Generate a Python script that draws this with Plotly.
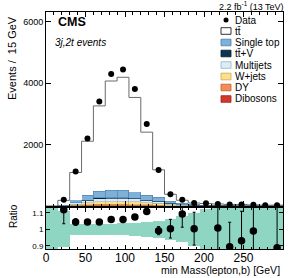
import numpy as np
import plotly.graph_objects as go

# ---------------- data ----------------
bin_edges_lo = [0, 15, 30, 45, 60, 75, 90, 105, 120, 135, 150, 165, 180, 195, 210, 225, 240, 255, 270, 285]
bin_width = 15
x_ticks = [0, 50, 100, 150, 200, 250, 300]

data_counts = [None, 206, 1125, 2197, 3400, 4297, 4438, 3805, 2667, 1171, 384, 207, 100, 90, 70, 50, 50, 40, 30, 30]

ttbar     = [3, 157, 892, 1749, 2767, 3552, 3673, 3064, 2044, 885, 234, 100, 40, 36, 26, 17, 18, 12, 7, 10]
singletop = [1, 12, 90, 165, 225, 240, 240, 215, 165, 135, 65, 38, 25, 20, 18, 15, 13, 11, 9, 9]
ttv       = [0, 1, 8, 15, 20, 22, 22, 20, 16, 13, 7, 4, 3, 2, 2, 2, 1, 1, 1, 1]
multijets = [0, 6, 40, 70, 100, 105, 105, 95, 72, 60, 32, 20, 13, 11, 10, 8, 7, 6, 5, 5]
wjets     = [1, 7, 38, 70, 90, 92, 92, 86, 67, 55, 30, 18, 12, 10, 9, 8, 7, 6, 5, 4]
dy        = [0, 3, 18, 32, 45, 45, 45, 42, 32, 26, 13, 8, 6, 5, 4, 4, 3, 3, 2, 2]
dibosons  = [0, 1, 6, 8, 10, 11, 11, 10, 8, 6, 3, 2, 1, 1, 1, 1, 1, 1, 1, 1]

ratio     = [None, 1.119, 1.044, 1.044, 1.044, 1.06, 1.06, 1.075, 1.109, 0.992, 1.004, 1.093, 1.004, None, 1.008, 0.893, 0.93, 0.99, None, 0.888]
ratio_err = [None, 0.085, 0.02, 0.01, 0.01, 0.008, 0.008, 0.008, 0.01, 0.025, 0.057, 0.08, 0.1, None, 0.2, 0.15, 0.18, 0.25, None, 0.3]
band_err  = [0.5, 0.11, 0.033, 0.033, 0.033, 0.034, 0.036, 0.04, 0.045, 0.05, 0.065, 0.08, 0.1, 0.125, 0.16, 0.25, 0.3, 0.35, 0.4, 0.45]

# ---------------- geometry helpers ----------------
W, H = 291, 278
L, R, T, B = 46, 8, 12, 29
PW, PH = W - L - R, H - T - B

def px(x):
    return (x - L) / PW

def py(y):
    return (H - B - y) / PH

centers = [e + bin_width / 2 for e in bin_edges_lo]

stack = [
    ("Dibosons", dibosons, "#d3392b", "#9e2418"),
    ("DY", dy, "#f68c55", "#c0622e"),
    ("W+jets", wjets, "#fedf8e", "#c9a850"),
    ("Multijets", multijets, "#dcedf5", "#93b5c6"),
    ("tt\u0304+V", ttv, "#0b3550", "#061e2e"),
    ("Single top", singletop, "#7eb0d8", "#4a7fae"),
]

fig = go.Figure()
for name, vals, col, lcol in stack:
    fig.add_trace(go.Bar(x=centers, y=vals, width=bin_width, marker=dict(color=col, line=dict(color=lcol, width=0.6)),
                         xaxis="x", yaxis="y", showlegend=False, hoverinfo="skip"))
fig.add_trace(go.Bar(x=centers, y=ttbar, width=bin_width, marker=dict(color="white", line=dict(width=0)),
                     xaxis="x", yaxis="y", showlegend=False))

total = np.sum([np.array(v, dtype=float) for v in [ttbar, singletop, ttv, multijets, wjets, dy, dibosons]], axis=0)
step_x = [bin_edges_lo[0]] + bin_edges_lo + [bin_edges_lo[-1] + bin_width, bin_edges_lo[-1] + bin_width]
step_y = [0] + list(total) + [total[-1], 0]
fig.add_trace(go.Scatter(x=step_x, y=step_y, mode="lines", line=dict(color="#6a6a6a", width=1, shape="hv"),
                         xaxis="x", yaxis="y", showlegend=False))

fig.add_trace(go.Scatter(x=centers, y=data_counts, mode="markers", marker=dict(color="black", size=6),
                         xaxis="x", yaxis="y", showlegend=False))

# ratio band
fig.add_trace(go.Bar(x=centers, y=[2 * e for e in band_err], base=[1 - e for e in band_err], width=bin_width,
                     marker=dict(color="#8ed6c2", line=dict(width=0)), xaxis="x2", yaxis="y2", showlegend=False))
fig.add_trace(go.Scatter(x=centers, y=ratio, mode="markers",
                         marker=dict(color="black", size=7.5),
                         error_y=dict(type="data", array=ratio_err, color="black", thickness=1, width=1.5),
                         xaxis="x2", yaxis="y2", showlegend=False))

axis_common = dict(showline=True, linecolor="black", linewidth=1, mirror="ticks", ticks="inside",
                   tickcolor="black", showgrid=False, zeroline=False)
fig.update_layout(
    width=W, height=H, autosize=False,
    margin=dict(l=L, r=R, t=T, b=B, pad=0),
    paper_bgcolor="white", plot_bgcolor="white",
    barmode="stack",
    font=dict(family="Liberation Sans, Arial, sans-serif", color="black"),
    xaxis=dict(domain=[0, 1], range=[0, 300], anchor="y", showticklabels=False, tickvals=x_ticks, ticklen=5,
               minor=dict(dtick=10, ticklen=2.5, ticks="inside", tickcolor="black"), **axis_common),
    yaxis=dict(domain=[0.181, 1], range=[0, 6310], anchor="x", tickvals=[2000, 4000, 6000], ticklen=5,
               tickfont=dict(size=9), **axis_common),
    xaxis2=dict(domain=[0, 1], range=[0, 300], anchor="y2", matches="x", tickvals=x_ticks, ticklen=4,
                tickfont=dict(size=12), ticklabelstandoff=-2,
                minor=dict(dtick=10, ticklen=2, ticks="inside", tickcolor="black"),
                **axis_common),
    yaxis2=dict(domain=[0, 0.173], range=[0.88, 1.13], anchor="x2", tickvals=[0.9, 1, 1.1],
                ticktext=["0.9", "1", "1.1"], ticklen=4, tickfont=dict(size=8), **axis_common),
)

ann = []
ann.append(dict(x=px(56), y=py(22), text="<b>CMS</b>", font=dict(size=12.5), xanchor="left", yanchor="middle"))
ann.append(dict(x=px(53), y=py(42), text="<i>3j,2t events</i>", font=dict(size=10), xanchor="left", yanchor="middle"))
ann.append(dict(x=px(286), y=py(6), text="2.2 fb<sup>-1</sup> (13 TeV)", font=dict(size=9), xanchor="right", yanchor="middle"))
ann.append(dict(x=px(282), y=py(270), text="min Mass(lepton,b) [GeV]", font=dict(size=10.5), xanchor="right", yanchor="middle"))
ann.append(dict(x=px(12), y=py(14), text="Events /  15 GeV", font=dict(size=11), textangle=-90, xanchor="center", yanchor="top"))
ann.append(dict(x=px(13), y=py(216), text="Ratio", font=dict(size=10), textangle=-90, xanchor="center", yanchor="middle"))

shapes = []
legend_rows = [("Data", None, None, 20), ("tt\u0304", "white", "black", 31)]
for name, vals, col, lcol in reversed(stack):
    legend_rows.append((name, col, lcol, None))
ys = [20, 31, 42.5, 53.5, 65, 76.5, 87.5, 99]
for i, (name, col, lcol, _) in enumerate(legend_rows):
    yc = ys[i]
    if col is None:
        shapes.append(dict(type="circle", xref="paper", yref="paper", x0=px(223.5), x1=px(228.5), y0=py(yc + 2.5), y1=py(yc - 2.5),
                           fillcolor="black", line=dict(width=0)))
    else:
        shapes.append(dict(type="rect", xref="paper", yref="paper", x0=px(221), x1=px(231), y0=py(yc + 3.3), y1=py(yc - 3.3),
                           fillcolor=col, line=dict(color=lcol, width=0.8)))
    ann.append(dict(x=px(233), y=py(yc), text=name, font=dict(size=10), xanchor="left", yanchor="middle"))

for a in ann:
    a.update(xref="paper", yref="paper", showarrow=False)
fig.update_layout(annotations=ann, shapes=shapes)

fig.write_html("out.html", config={"displayModeBar": False, "staticPlot": True},
               post_script="document.body.style.margin='0';document.body.style.overflow='hidden';")
